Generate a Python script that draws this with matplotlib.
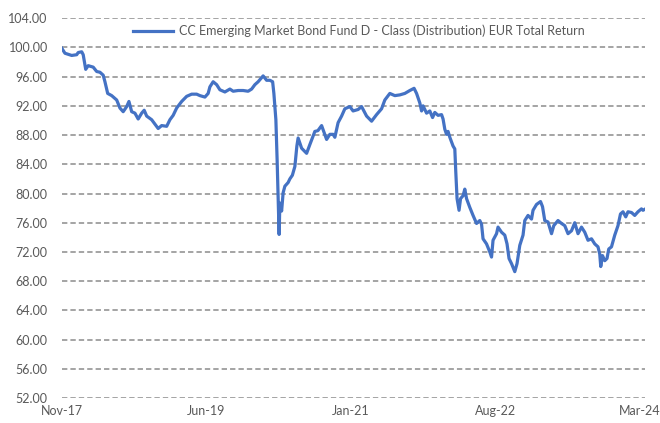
import numpy as np
import pandas as pd
import matplotlib
matplotlib.use("Agg")
import matplotlib.pyplot as plt
import matplotlib.dates as mdates

plt.rcParams['font.family'] = ['Lato', 'DejaVu Sans']

series_name = "CC Emerging Market Bond Fund D - Class (Distribution) EUR Total Return"

dates = [
    "2017-11-01", "2017-11-14", "2017-12-11", "2017-12-31", "2018-01-06", "2018-01-20",
    "2018-01-26", "2018-02-05", "2018-02-15", "2018-03-07", "2018-03-21", "2018-04-03",
    "2018-04-16", "2018-04-23", "2018-05-04", "2018-05-20", "2018-06-09", "2018-06-22",
    "2018-07-05", "2018-07-19", "2018-07-28", "2018-08-08", "2018-08-21", "2018-09-03",
    "2018-09-17", "2018-09-27", "2018-10-07", "2018-10-27", "2018-11-09", "2018-11-22",
    "2018-12-06", "2018-12-26", "2019-01-08", "2019-01-21", "2019-02-04", "2019-02-24",
    "2019-03-16", "2019-04-05", "2019-04-25", "2019-05-08", "2019-05-28", "2019-06-10",
    "2019-06-17", "2019-06-30", "2019-07-14", "2019-07-27", "2019-08-16", "2019-09-05",
    "2019-09-18", "2019-10-08", "2019-10-28", "2019-11-17", "2019-12-01", "2019-12-14",
    "2019-12-27", "2020-01-16", "2020-01-30", "2020-02-12", "2020-02-23", "2020-02-28",
    "2020-03-07", "2020-03-12", "2020-03-16", "2020-03-20", "2020-03-23", "2020-03-30",
    "2020-04-05", "2020-04-12", "2020-04-25", "2020-05-02", "2020-05-12", "2020-05-22",
    "2020-05-30", "2020-06-04", "2020-06-18", "2020-07-08", "2020-07-21", "2020-08-10",
    "2020-08-22", "2020-09-06", "2020-09-26", "2020-10-09", "2020-10-22", "2020-10-29",
    "2020-11-11", "2020-11-25", "2020-12-08", "2020-12-28", "2021-01-10", "2021-01-30",
    "2021-02-13", "2021-03-05", "2021-03-25", "2021-04-14", "2021-05-04", "2021-05-17",
    "2021-06-06", "2021-06-26", "2021-07-16", "2021-08-05", "2021-08-25", "2021-09-11",
    "2021-09-21", "2021-10-04", "2021-10-11", "2021-10-17", "2021-10-31", "2021-11-13",
    "2021-11-24", "2021-12-03", "2021-12-16", "2021-12-30", "2022-01-05", "2022-01-12",
    "2022-01-19", "2022-01-25", "2022-02-01", "2022-02-14", "2022-02-21", "2022-02-25",
    "2022-03-02", "2022-03-10", "2022-03-16", "2022-03-26", "2022-04-02", "2022-04-09",
    "2022-04-22", "2022-05-05", "2022-05-19", "2022-06-01", "2022-06-08", "2022-06-14",
    "2022-06-28", "2022-07-11", "2022-07-18", "2022-07-24", "2022-08-07", "2022-08-13",
    "2022-08-27", "2022-09-09", "2022-09-18", "2022-09-26", "2022-10-06", "2022-10-19",
    "2022-10-28", "2022-11-08", "2022-11-21", "2022-11-28", "2022-12-11", "2022-12-25",
    "2022-12-31", "2023-01-14", "2023-01-30", "2023-02-07", "2023-02-16", "2023-03-01",
    "2023-03-15", "2023-03-24", "2023-04-10", "2023-04-24", "2023-05-07", "2023-05-20",
    "2023-06-03", "2023-06-16", "2023-06-29", "2023-07-13", "2023-07-26", "2023-08-08",
    "2023-08-22", "2023-09-04", "2023-09-17", "2023-09-24", "2023-09-28", "2023-10-05",
    "2023-10-14", "2023-10-23", "2023-10-30", "2023-11-10", "2023-11-23", "2023-12-06",
    "2023-12-16", "2023-12-26", "2024-01-06", "2024-01-15", "2024-01-29", "2024-02-11",
    "2024-02-24", "2024-03-09", "2024-03-15", "2024-03-25",
]

values = [
    99.9, 99.2, 98.9, 99.0, 99.3, 99.4,
    99.0, 97.0, 97.5, 97.3, 96.7, 96.6,
    96.2, 95.3, 93.7, 93.4, 92.8, 91.7,
    91.2, 91.9, 92.6, 91.2, 91.0, 90.2,
    91.0, 91.4, 90.6, 90.1, 89.5, 88.9,
    89.3, 89.2, 90.1, 90.7, 91.7, 92.6,
    93.3, 93.6, 93.6, 93.4, 93.2, 93.7,
    94.6, 95.3, 94.9, 94.2, 93.9, 94.3,
    94.0, 94.1, 94.1, 94.0, 94.3, 94.9,
    95.3, 96.1, 95.5, 95.5, 95.3, 93.7,
    90.1, 84.6, 79.2, 74.4, 78.7, 77.6,
    80.1, 81.0, 81.5, 82.0, 82.5, 83.7,
    86.5, 87.6, 86.2, 85.5, 86.7, 88.5,
    88.6, 89.3, 87.4, 88.1, 88.1, 87.7,
    89.7, 90.6, 91.6, 91.9, 91.3, 91.5,
    91.9, 90.6, 89.9, 90.8, 91.6, 92.8,
    93.7, 93.4, 93.5, 93.7, 94.1, 94.4,
    93.7, 92.4, 91.3, 92.0, 91.0, 91.3,
    90.4, 91.1, 90.7, 90.8, 90.2, 88.8,
    88.1, 88.5, 87.7, 86.5, 86.1, 82.9,
    79.3, 77.7, 79.3, 79.7, 80.6, 79.3,
    78.1, 77.0, 75.9, 76.3, 75.8, 73.8,
    73.1, 72.0, 71.3, 73.6, 74.5, 75.4,
    74.7, 74.3, 73.1, 71.1, 70.4, 69.3,
    70.4, 72.9, 74.3, 76.3, 77.0, 76.5,
    77.7, 78.5, 78.9, 78.2, 76.3, 76.1,
    74.5, 75.6, 76.3, 75.9, 75.6, 74.5,
    74.9, 76.0, 74.5, 75.4, 74.7, 73.6,
    73.8, 73.1, 72.7, 71.7, 70.0, 71.5,
    70.8, 71.1, 72.4, 72.7, 74.3, 75.6,
    77.2, 77.5, 76.8, 77.5, 77.4, 77.0,
    77.5, 77.9, 77.7, 77.9,
]

tick_dates = ["2017-11-01", "2019-06-01", "2021-01-01", "2022-08-01", "2024-03-01"]
tick_labels = ["Nov-17", "Jun-19", "Jan-21", "Aug-22", "Mar-24"]
y_ticks = np.arange(52, 105, 4)

x = pd.to_datetime(dates)

fig = plt.figure(figsize=(6.6, 4.23), dpi=100)
ax = fig.add_axes([0.0935, 0.059, 0.8845, 0.898])

text_color = "#595959"
ax.set_ylim(52, 104)
ax.set_yticks(y_ticks)
ax.set_yticklabels([f"{v:.2f}" for v in y_ticks])
ax.set_xlim(pd.Timestamp("2017-11-01"), pd.Timestamp("2024-03-25"))
ax.set_xticks(pd.to_datetime(tick_dates))
ax.set_xticklabels(tick_labels)

ax.grid(axis='y', color='#8c8c8c', linestyle=(0, (3.5, 2)), linewidth=1.1)
ax.set_axisbelow(True)
for s in ax.spines.values():
    s.set_visible(False)
ax.tick_params(length=0, colors=text_color, labelsize=9)
ax.tick_params(axis='y', pad=10)
ax.tick_params(axis='x', pad=5)

ax.plot(x, values, color='#4472C4', linewidth=2.3, label=series_name)

fig.legend(loc='center', bbox_to_anchor=(0.5435, 0.927), frameon=False,
           fontsize=9, handlelength=3.2, labelcolor=text_color, handletextpad=0.5)

fig.savefig("out.png", dpi=100)
